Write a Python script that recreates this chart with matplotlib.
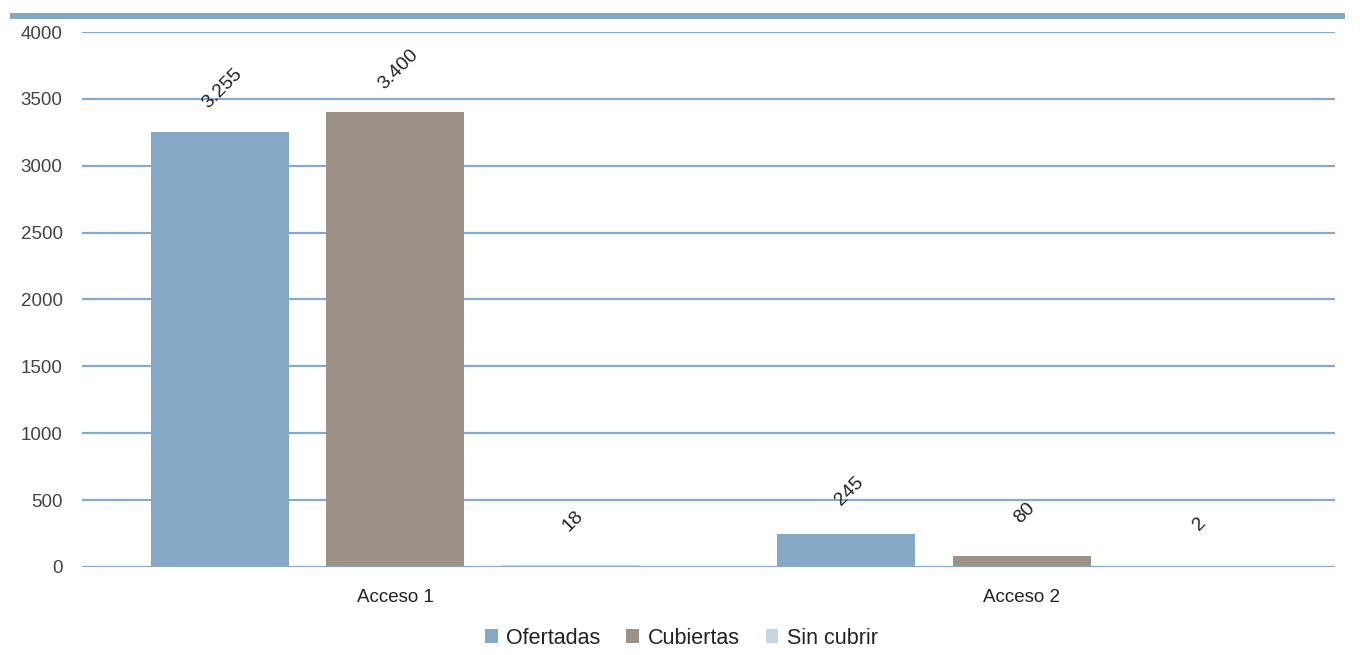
import numpy as np
import matplotlib.pyplot as plt
from matplotlib.patches import Rectangle
from matplotlib import font_manager

categories = ["Acceso 1", "Acceso 2"]
series_names = ["Ofertadas", "Cubiertas", "Sin cubrir"]
ofertadas = [3255, 245]
cubiertas = [3400, 80]
sin_cubrir = [18, 2]
value_labels = [["3.255", "245"], ["3.400", "80"], ["18", "2"]]
y_ticks = [0, 500, 1000, 1500, 2000, 2500, 3000, 3500, 4000]

colors = ["#85a8c6", "#9d9288", "#c5d6e5"]
grid_color = "#86aacb"

names = {f.name for f in font_manager.fontManager.ttflist}
narrow = "Liberation Sans Narrow" if "Liberation Sans Narrow" in names else "Liberation Sans"
plt.rcParams["font.family"] = [narrow, "DejaVu Sans"]

fig = plt.figure(figsize=(13.6, 6.55), dpi=100)
ax = fig.add_axes([0.0603, 0.1344, 0.9213, 0.8167])

# top band
fig.add_artist(Rectangle((10 / 1360, 1 - 19 / 655), 1335 / 1360, 6 / 655,
                         transform=fig.transFigure, color="#84a7c7", lw=0))

x = np.arange(len(categories))
bar_width = 0.22
step = 0.28
all_values = [ofertadas, cubiertas, sin_cubrir]

for i, (vals, name, col) in enumerate(zip(all_values, series_names, colors)):
    xpos = x + (i - 1) * step
    ax.bar(xpos, vals, width=bar_width, color=col, label=name, zorder=3)
    for xp, v, lab in zip(xpos, vals, value_labels[i]):
        ax.annotate(lab, (xp, v), xytext=(2, 31), textcoords="offset points",
                    ha="center", va="center", rotation=45, fontsize=14,
                    color="#222222")

ax.set_xlim(-0.5, 1.5)
ax.set_ylim(0, 4000)
ax.set_yticks(y_ticks)
ax.set_yticklabels([str(t) for t in y_ticks], fontsize=13.5, color="#444444")
ax.set_xticks(x, categories, fontsize=13.5, color="#222222")
ax.tick_params(axis="x", length=0, pad=16)
ax.tick_params(axis="y", length=0, pad=14)
ax.grid(axis="y", color=grid_color, lw=1.6, zorder=0)
ax.axhline(0, color=grid_color, lw=2, zorder=4)
for s in ax.spines.values():
    s.set_visible(False)

fig.legend(loc="lower center", bbox_to_anchor=(0.501, -0.02), ncol=3,
           frameon=False, fontsize=15.5, handlelength=0.6, handleheight=0.6,
           handletextpad=0.4, columnspacing=1.2, labelcolor="#222222")

fig.savefig("out.png", dpi=100)
